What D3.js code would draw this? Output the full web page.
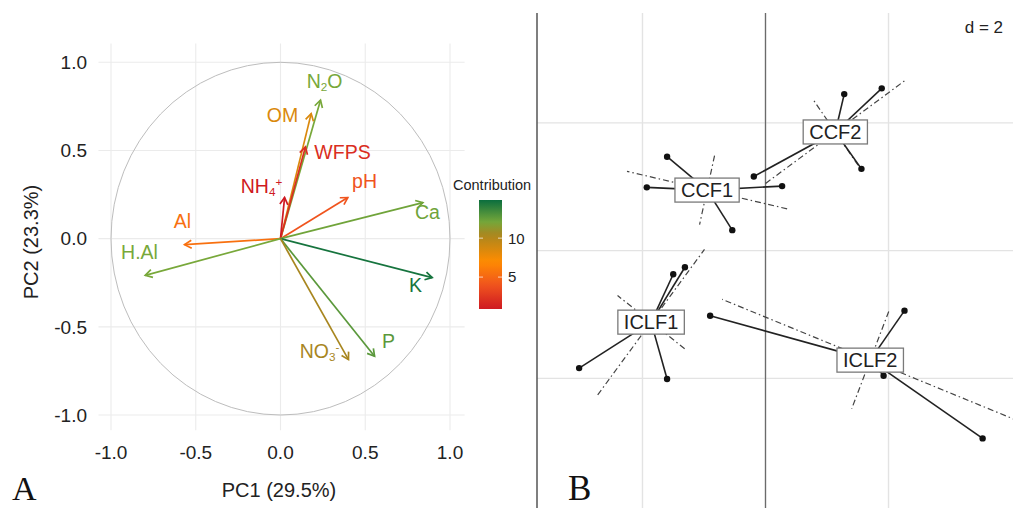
<!DOCTYPE html>
<html><head><meta charset="utf-8">
<script src="https://cdn.jsdelivr.net/npm/d3@7"></script>
<style>
body{margin:0;background:#fff;}
svg{display:block;font-family:"Liberation Sans",Arial,Helvetica,sans-serif;}
</style>
</head><body>
<svg id="chart" width="1013" height="508"></svg>
<script>
// ---------- Panel A data (PCA variable correlation circle) ----------
const variables = ["N_2O", "OM", "WFPS", "NH_4^+", "pH", "Ca", "Al", "H.Al", "K", "P", "NO_3^-"];
const pc1 = [0.236, 0.181, 0.147, 0.024, 0.397, 0.840, -0.566, -0.798, 0.895, 0.555, 0.401];
const pc2 = [0.785, 0.709, 0.520, 0.233, 0.233, 0.204, -0.034, -0.208, -0.221, -0.667, -0.686];
const contrib = [12.0, 8.5, 2.0, 1.0, 4.0, 12.2, 5.5, 12.0, 14.6, 12.8, 10.5];
const labelPC1 = [0.260, 0.012, 0.366, -0.112, 0.496, 0.867, -0.578, -0.832, 0.796, 0.637, 0.230];
const labelPC2 = [0.853, 0.660, 0.450, 0.257, 0.286, 0.109, 0.059, -0.118, -0.304, -0.622, -0.679];
const axisTicks = [-1.0, -0.5, 0.0, 0.5, 1.0];
const contribTicks = [5, 10];
const contribRange = [0.9, 14.9];
const axisTitles = ["PC1 (29.5%)", "PC2 (23.3%)"];
const legendTitle = "Contribution";

// ---------- Panel B data (s.class, d = 2) ----------
const groups = ["CCF1", "CCF2", "ICLF1", "ICLF2"];
const sitesX = [[-1.60, -1.93, 0.27, -0.54], [1.28, 1.89, 1.56, -0.19], [-1.50, -1.31, -3.03, -1.60], [2.26, -0.90, 1.92, 3.53]];
const sitesY = [[1.47, 0.99, 1.01, 0.32], [2.45, 2.54, 1.28, 1.16], [-0.37, -0.26, -1.84, -2.01], [-0.94, -1.02, -1.96, -2.94]];
const gridStep = 2;
const panelLetters = ["A", "B"];

const svg = d3.select("#chart");
const fmt = d => d3.format(".1f")(d).replace("\u2212", "-");

// ================= Panel A =================
const xA = d3.scaleLinear().domain([-1, 1]).range([111, 450]);
const yA = d3.scaleLinear().domain([-1, 1]).range([415, 62.3]);
const xLim = [-1.074, 1.086], yLim = [-1.087, 1.106];

const colorScale = d3.scaleLinear()
  .domain([1, 4, 7, 10.5, 12, 14.9])
  .range(["#cf1a22", "#f0541e", "#ff8c00", "#a8861f", "#78a83a", "#0b6e3e"])
  .clamp(true);

const gA = svg.append("g");
// grid
gA.selectAll("line.vg").data(axisTicks).join("line")
  .attr("x1", d => xA(d)).attr("x2", d => xA(d))
  .attr("y1", yA(yLim[1])).attr("y2", yA(yLim[0]))
  .attr("stroke", "#ebebeb").attr("stroke-width", 1.1);
gA.selectAll("line.hg").data(axisTicks).join("line")
  .attr("y1", d => yA(d)).attr("y2", d => yA(d))
  .attr("x1", xA(xLim[0])).attr("x2", xA(xLim[1]))
  .attr("stroke", "#ebebeb").attr("stroke-width", 1.1);

// circle
gA.append("ellipse")
  .attr("cx", xA(0)).attr("cy", yA(0))
  .attr("rx", xA(1) - xA(0)).attr("ry", yA(0) - yA(1))
  .attr("fill", "none").attr("stroke", "#bdbdbd").attr("stroke-width", 1);

// tick labels
gA.selectAll("text.xt").data(axisTicks).join("text")
  .attr("x", d => xA(d)).attr("y", 459)
  .attr("text-anchor", "middle").attr("font-size", 19).attr("fill", "#222")
  .text(fmt);
gA.selectAll("text.yt").data(axisTicks).join("text")
  .attr("x", 87).attr("y", d => yA(d)).attr("dy", "0.36em")
  .attr("text-anchor", "end").attr("font-size", 19).attr("fill", "#222")
  .text(fmt);

// axis titles
gA.append("text").attr("x", 279).attr("y", 497).attr("text-anchor", "middle")
  .attr("font-size", 20).attr("fill", "#222").text(axisTitles[0]);
gA.append("text").attr("transform", "translate(38,242) rotate(-90)").attr("text-anchor", "middle")
  .attr("font-size", 20).attr("fill", "#222").text(axisTitles[1]);

// arrows
const arrowData = variables.map((v, i) => ({v, x: pc1[i], y: pc2[i], c: contrib[i], lx: labelPC1[i], ly: labelPC2[i]}));
const ax = gA.append("g");
arrowData.forEach(d => {
  const col = colorScale(d.c);
  const ox = xA(0), oy = yA(0), tx = xA(d.x), ty = yA(d.y);
  ax.append("line").attr("x1", ox).attr("y1", oy).attr("x2", tx).attr("y2", ty)
    .attr("stroke", col).attr("stroke-width", 1.7);
  const th = Math.atan2(ty - oy, tx - ox), L = 8, a = Math.PI / 6;
  const p1 = [tx - L * Math.cos(th - a), ty - L * Math.sin(th - a)];
  const p2 = [tx - L * Math.cos(th + a), ty - L * Math.sin(th + a)];
  ax.append("path").attr("d", `M${p1[0]},${p1[1]}L${tx},${ty}L${p2[0]},${p2[1]}`)
    .attr("fill", "none").attr("stroke", col).attr("stroke-width", 1.7)
    .attr("stroke-linejoin", "miter");
});

function richText(sel, s, fs) {
  const parts = []; let buf = "";
  for (let i = 0; i < s.length; i++) {
    const ch = s[i];
    if ((ch === "_" || ch === "^") && i + 1 < s.length) {
      if (buf) { parts.push({t: buf, o: 0}); buf = ""; }
      parts.push({t: s[i + 1], o: ch === "_" ? 0.15 : -0.4});
      i++;
    } else buf += ch;
  }
  if (buf) parts.push({t: buf, o: 0});
  let off = 0;
  parts.forEach(p => {
    sel.append("tspan").attr("dy", (p.o - off) * fs).attr("font-size", p.o ? fs * 0.6 : fs).text(p.t);
    off = p.o;
  });
}
arrowData.forEach(d => {
  const t = ax.append("text").attr("x", xA(d.lx)).attr("y", yA(d.ly)).attr("dy", "0.36em")
    .attr("text-anchor", "middle").attr("font-size", 19.5).attr("fill", colorScale(d.c));
  richText(t, d.v, 19.5);
});

// legend colorbar
const barY = d3.scaleLinear().domain(contribRange).range([309, 200]);
const defs = svg.append("defs");
const grad = defs.append("linearGradient").attr("id", "cg").attr("x1", 0).attr("x2", 0).attr("y1", 1).attr("y2", 0);
d3.range(0, 1.0001, 0.05).forEach(t => {
  grad.append("stop").attr("offset", t).attr("stop-color", colorScale(contribRange[0] + t * (contribRange[1] - contribRange[0])));
});
gA.append("text").attr("x", 453).attr("y", 185).attr("dy", "0.36em").attr("font-size", 14.5).attr("fill", "#222").text(legendTitle);
gA.append("rect").attr("x", 479).attr("y", barY(contribRange[1])).attr("width", 23)
  .attr("height", barY(contribRange[0]) - barY(contribRange[1])).attr("fill", "url(#cg)");
contribTicks.forEach(v => {
  [[479, 483], [498, 502]].forEach(([a, b]) => gA.append("line").attr("x1", a).attr("x2", b)
    .attr("y1", barY(v)).attr("y2", barY(v)).attr("stroke", "#fff").attr("stroke-opacity", 0.7).attr("stroke-width", 1));
  gA.append("text").attr("x", 508).attr("y", barY(v)).attr("dy", "0.36em")
    .attr("font-size", 15).attr("fill", "#222").text(v);
});

// ================= Panel B =================
const xB = d3.scaleLinear().domain([-3.715, 4.024]).range([537, 1013]);
const yB = d3.scaleLinear().domain([3.72, -4.03]).range([13, 508]);
const gB = svg.append("g");
const gx = d3.range(-2 * gridStep, 4 * gridStep, gridStep).filter(v => v > xB.domain()[0] && v < xB.domain()[1] - 0.1);
const gy = d3.range(-2 * gridStep, 3 * gridStep, gridStep).filter(v => v < yB.domain()[0] && v > yB.domain()[1] + 0.1);
gB.selectAll("line.bv").data(gx).join("line")
  .attr("x1", d => xB(d)).attr("x2", d => xB(d)).attr("y1", yB(yB.domain()[0])).attr("y2", 508)
  .attr("stroke", "#e3e3e3").attr("stroke-width", 1.4);
gB.selectAll("line.bh").data(gy).join("line")
  .attr("y1", d => yB(d)).attr("y2", d => yB(d)).attr("x1", 537).attr("x2", 1013)
  .attr("stroke", "#e3e3e3").attr("stroke-width", 1.4);
// axis through origin (vertical) and panel left border
gB.append("line").attr("x1", xB(0)).attr("x2", xB(0)).attr("y1", 13).attr("y2", 508)
  .attr("stroke", "#6b6b6b").attr("stroke-width", 1.3);
gB.append("line").attr("x1", 537).attr("x2", 537).attr("y1", 13).attr("y2", 508)
  .attr("stroke", "#555").attr("stroke-width", 1.5);

gB.append("text").attr("x", 1003).attr("y", 33).attr("text-anchor", "end")
  .attr("font-size", 17).attr("fill", "#222").text("d = " + gridStep);

function ellAxes(xs, ys, k) {
  const mx = d3.mean(xs), my = d3.mean(ys);
  const vx = d3.mean(xs, x => (x - mx) ** 2), vy = d3.mean(ys, y => (y - my) ** 2);
  const cxy = d3.mean(xs.map((x, i) => (x - mx) * (ys[i] - my)));
  const tr = vx + vy, det = vx * vy - cxy * cxy;
  const disc = Math.sqrt(Math.max(0, tr * tr / 4 - det));
  const l1 = tr / 2 + disc, l2 = Math.max(0, tr / 2 - disc);
  let e = Math.abs(cxy) > 1e-12 ? [cxy, l1 - vx] : (vx >= vy ? [1, 0] : [0, 1]);
  const n = Math.hypot(e[0], e[1]); e = [e[0] / n, e[1] / n];
  const f = [-e[1], e[0]];
  const a = k * Math.sqrt(l1), b = k * Math.sqrt(l2);
  return {mx, my, axes: [
    [[mx - a * e[0], my - a * e[1]], [mx + a * e[0], my + a * e[1]]],
    [[mx - b * f[0], my - b * f[1]], [mx + b * f[0], my + b * f[1]]]
  ]};
}

const groupData = groups.map((g, i) => ({g, xs: sitesX[i], ys: sitesY[i], ...ellAxes(sitesX[i], sitesY[i], 1.5)}));

const clip = defs.append("clipPath").attr("id", "clipB");
clip.append("rect").attr("x", 537).attr("y", 0).attr("width", 476).attr("height", 508);
const gPlot = gB.append("g").attr("clip-path", "url(#clipB)");

groupData.forEach(d => {
  d.axes.forEach(seg => {
    gPlot.append("line")
      .attr("x1", xB(seg[0][0])).attr("y1", yB(seg[0][1]))
      .attr("x2", xB(seg[1][0])).attr("y2", yB(seg[1][1]))
      .attr("stroke", "#444").attr("stroke-width", 1.2).attr("stroke-dasharray", "6,3,1.5,3");
  });
});
groupData.forEach(d => {
  d.xs.forEach((x, j) => {
    gPlot.append("line").attr("x1", xB(d.mx)).attr("y1", yB(d.my))
      .attr("x2", xB(x)).attr("y2", yB(d.ys[j]))
      .attr("stroke", "#222").attr("stroke-width", 1.6);
    gPlot.append("circle").attr("cx", xB(x)).attr("cy", yB(d.ys[j])).attr("r", 3.2).attr("fill", "#111");
  });
});
groupData.forEach(d => {
  const t = gPlot.append("text").attr("x", xB(d.mx)).attr("y", yB(d.my)).attr("dy", "0.36em")
    .attr("text-anchor", "middle").attr("font-size", 20).attr("fill", "#222").text(d.g);
  const bb = t.node().getBBox();
  gPlot.insert("rect", () => t.node())
    .attr("x", bb.x - 6).attr("y", yB(d.my) - 12).attr("width", bb.width + 12).attr("height", 24)
    .attr("fill", "#fff").attr("stroke", "#7a7a7a").attr("stroke-width", 1.3);
});

// panel letters
svg.append("text").attr("x", 12).attr("y", 500).attr("font-family", "'Liberation Serif','Times New Roman',serif")
  .attr("font-size", 34).attr("fill", "#111").text(panelLetters[0]);
svg.append("text").attr("x", 568).attr("y", 500).attr("font-family", "'Liberation Serif','Times New Roman',serif")
  .attr("font-size", 35).attr("fill", "#111").text(panelLetters[1]);
</script>
</body></html>
